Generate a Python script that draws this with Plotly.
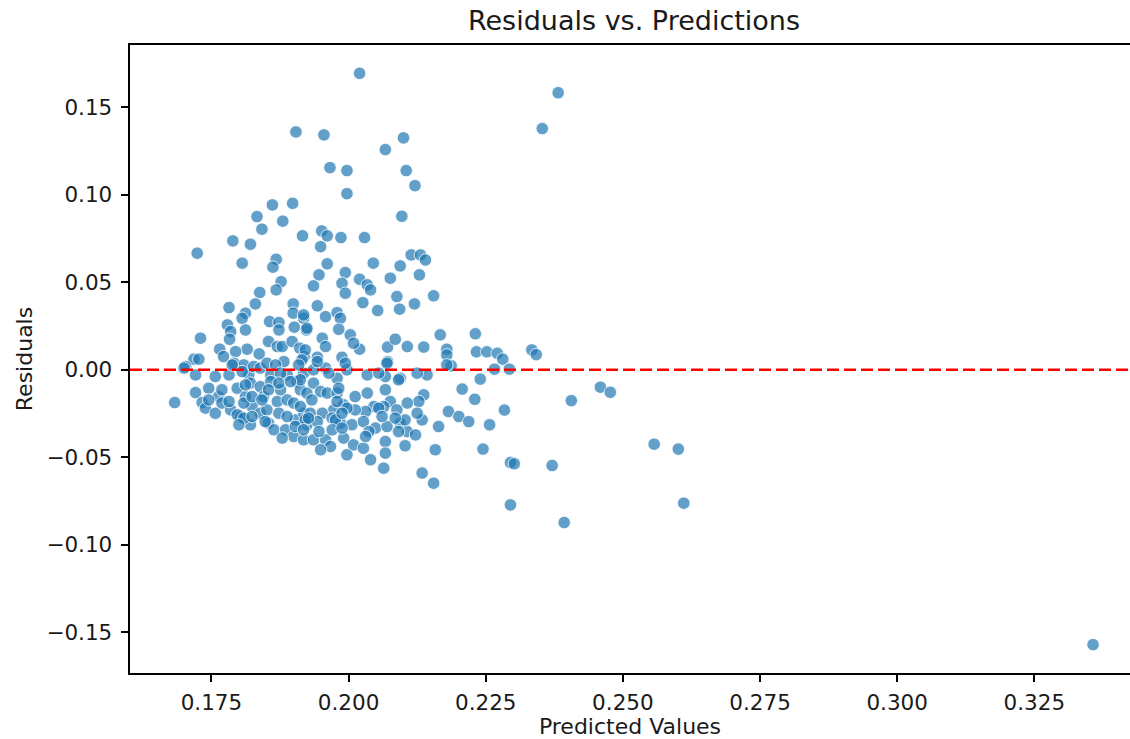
import plotly.graph_objects as go

predicted = [
    0.2020, 0.1904, 0.1955, 0.2067, 0.2100, 0.1966, 0.1997, 0.1997, 0.1861, 0.1898,
    0.1833, 0.1880, 0.1842, 0.1789, 0.1821, 0.1916, 0.1951, 0.1961, 0.1986, 0.2029,
    0.1949, 0.1724, 0.2097, 0.2105, 0.2121, 0.2114, 0.2131, 0.2140, 0.1806, 0.1868,
    0.1862, 0.1877, 0.1868, 0.1838, 0.1830, 0.1782, 0.1812, 0.1806, 0.1899, 0.1899,
    0.1918, 0.1856, 0.1873, 0.1873, 0.1901, 0.1923, 0.1779, 0.1812, 0.1785, 0.1783,
    0.1730, 0.1815, 0.1765, 0.1794, 0.1837, 0.1854, 0.1870, 0.1879, 0.1897, 0.1911,
    0.1919, 0.1772, 0.1718, 0.1727, 0.1791, 0.1882, 0.1703,
    0.1961, 0.2045, 0.2094, 0.2129, 0.1994, 0.1946, 0.2020, 0.1988, 0.2034, 0.2040,
    0.2076, 0.1994, 0.1936, 0.2088, 0.2155, 0.2120, 0.2093, 0.2026, 0.2053, 0.1943,
    0.1918, 0.1958, 0.1979, 0.1985, 0.1924, 0.1982, 0.2003, 0.2020, 0.2009, 0.1952,
    0.1958, 0.1921, 0.1943, 0.1988, 0.2071, 0.2085, 0.2107, 0.2137, 0.2167, 0.2179,
    0.2071, 0.2179,
    0.2382, 0.2353, 0.2231, 0.2233, 0.2252, 0.2271, 0.2281, 0.2334, 0.2342, 0.2187,
    0.2266, 0.2293,
    0.2240, 0.2207, 0.2459, 0.2477, 0.2406, 0.2230, 0.2284, 0.2182, 0.2201, 0.2219,
    0.2257, 0.2245, 0.2557, 0.2601, 0.2295, 0.2302, 0.2371, 0.2295, 0.2611, 0.2393,
    0.3357,
    0.1700, 0.1721, 0.1757, 0.1782, 0.1809, 0.1818, 0.1827, 0.1839, 0.1851, 0.1858,
    0.1867, 0.1888, 0.1906, 0.1918, 0.1915,
    0.1683, 0.1721, 0.1733, 0.1745, 0.1763, 0.1739, 0.1757, 0.1769, 0.1785, 0.1797,
    0.1812, 0.1821, 0.1803, 0.1821, 0.1824, 0.1839, 0.1845, 0.1839, 0.1851, 0.1854,
    0.1864, 0.1870, 0.1876, 0.1888, 0.1885, 0.1900, 0.1903, 0.1900, 0.1918, 0.1924,
    0.1918, 0.1912, 0.1858, 0.1924, 0.1879,
    0.1958, 0.1997, 0.2070, 0.2094, 0.2067, 0.2143, 0.2125, 0.2179, 0.2034, 0.1979,
    0.1912, 0.1936,
    0.1949, 0.1961, 0.1979, 0.2012, 0.2034, 0.2137, 0.2128, 0.2107, 0.2076, 0.2064,
    0.2088, 0.2046, 0.2031, 0.2012, 0.1991, 0.1973, 0.1952, 0.1930, 0.1912, 0.1921,
    0.1943, 0.1970, 0.1985, 0.2006, 0.2027, 0.2049, 0.2070, 0.2094, 0.2107, 0.2122,
    0.2134, 0.2125, 0.2103, 0.2164, 0.1936, 0.1958, 0.1967, 0.1991, 0.2009, 0.2027,
    0.2040, 0.2067, 0.2067, 0.2103, 0.2064, 0.2158, 0.2134, 0.2155, 0.1997, 0.1949,
    0.1788, 0.1806, 0.1876, 0.1909, 0.1936, 0.1943, 0.1964, 0.1994, 0.2055, 0.1769,
    0.1812, 0.1854, 0.1873, 0.1894, 0.1982, 0.2067, 0.2091, 0.1745, 0.1782, 0.1809,
    0.1824, 0.1842, 0.1933, 0.1979, 0.1997, 0.2055, 0.1797, 0.1809, 0.1824, 0.1873,
    0.1888, 0.1927, 0.1976, 0.1988, 0.2061, 0.2085, 0.1800, 0.1848, 0.1903, 0.1918,
    0.1946, 0.1970, 0.1988, 0.2037, 0.2091, 0.2031,
]

residuals = [
    0.1694, 0.1359, 0.1342, 0.1258, 0.1325, 0.1155, 0.1138, 0.1006, 0.0942, 0.0951,
    0.0875, 0.0849, 0.0803, 0.0736, 0.0717, 0.0765, 0.0793, 0.0765, 0.0755, 0.0755,
    0.0703, 0.0666, 0.0877, 0.1138, 0.1052, 0.0656, 0.0656, 0.0627, 0.0609, 0.0631,
    0.0586, 0.0503, 0.0456, 0.0441, 0.0376, 0.0355, 0.0323, 0.0294, 0.0376, 0.0323,
    0.0294, 0.0275, 0.0269, 0.0227, 0.0243, 0.0227, 0.0256, 0.0227, 0.0218, 0.0174,
    0.0180, 0.0117, 0.0117, 0.0103, 0.0090, 0.0161, 0.0132, 0.0132, 0.0161, 0.0123,
    0.0075, 0.0075, 0.0060, 0.0060, 0.0037, 0.0046, 0.0018,
    0.0605, 0.0609, 0.0593, 0.0542, 0.0555, 0.0542, 0.0517, 0.0494, 0.0485, 0.0456,
    0.0523, 0.0437, 0.0479, 0.0418, 0.0422, 0.0376, 0.0346, 0.0383, 0.0338, 0.0365,
    0.0313, 0.0303, 0.0326, 0.0294, 0.0237, 0.0231, 0.0199, 0.0117, 0.0151, 0.0180,
    0.0132, 0.0113, 0.0071, 0.0071, 0.0129, 0.0174, 0.0132, 0.0129, 0.0199, 0.0117,
    0.0046, 0.0084,
    0.1583, 0.1378, 0.0205, 0.0102, 0.0102, 0.0094, 0.0060, 0.0113, 0.0086, 0.0022,
    0.0003, 0.0003,
    -0.0054, -0.0111, -0.0100, -0.0129, -0.0177, -0.0169, -0.0231, -0.0239, -0.0268, -0.0297,
    -0.0315, -0.0454, -0.0426, -0.0454, -0.0531, -0.0538, -0.0548, -0.0773, -0.0763, -0.0874,
    -0.1572,
    0.0009, -0.0030, -0.0039, -0.0030, 0.0027, -0.0030, 0.0018, 0.0009, 0.0037, -0.0030,
    0.0027, -0.0030, -0.0068, -0.0020, 0.0056,
    -0.0188, -0.0131, -0.0188, -0.0106, -0.0154, -0.0220, -0.0249, -0.0191, -0.0230, -0.0106,
    -0.0154, -0.0077, -0.0268, -0.0315, -0.0211, -0.0097, -0.0154, -0.0249, -0.0230, -0.0306,
    -0.0344, -0.0182, -0.0115, -0.0173, -0.0344, -0.0191, -0.0287, -0.0382, -0.0249, -0.0315,
    -0.0401, -0.0115, -0.0068, -0.0134, -0.0391,
    0.0009, -0.0001, 0.0037, -0.0049, -0.0039, -0.0030, -0.0020, 0.0027, -0.0030, -0.0049,
    -0.0058, -0.0077,
    -0.0125, -0.0134, -0.0134, -0.0154, -0.0134, -0.0144, -0.0182, -0.0191, -0.0182, -0.0211,
    -0.0230, -0.0211, -0.0239, -0.0230, -0.0201, -0.0230, -0.0249, -0.0249, -0.0211, -0.0287,
    -0.0297, -0.0277, -0.0306, -0.0315, -0.0297, -0.0334, -0.0325, -0.0306, -0.0354, -0.0373,
    -0.0287, -0.0249, -0.0287, -0.0325, -0.0401, -0.0401, -0.0439, -0.0391, -0.0430, -0.0449,
    -0.0515, -0.0411, -0.0477, -0.0435, -0.0563, -0.0458, -0.0591, -0.0649, -0.0487, -0.0458,
    0.0027, -0.0011, -0.0020, 0.0027, -0.0001, 0.0046, -0.0020, 0.0037, -0.0020, -0.0115,
    -0.0087, -0.0115, -0.0077, -0.0068, -0.0106, -0.0115, -0.0058, -0.0173, -0.0182, -0.0191,
    -0.0154, -0.0173, -0.0173, -0.0182, -0.0220, -0.0220, -0.0258, -0.0277, -0.0268, -0.0249,
    -0.0268, -0.0277, -0.0287, -0.0249, -0.0268, -0.0277, -0.0315, -0.0297, -0.0325, -0.0344,
    -0.0354, -0.0344, -0.0334, -0.0354, -0.0354, -0.0382,
]

x_ticks = [0.175, 0.200, 0.225, 0.250, 0.275, 0.300, 0.325]
x_tick_text = ["0.175", "0.200", "0.225", "0.250", "0.275", "0.300", "0.325"]
y_ticks = [-0.15, -0.10, -0.05, 0.00, 0.05, 0.10, 0.15]
y_tick_text = ["\u22120.15", "\u22120.10", "\u22120.05", "0.00", "0.05", "0.10", "0.15"]

FONT = "DejaVu Sans"
TXT = "#1a1a1a"

fig = go.Figure()
fig.add_trace(go.Scatter(
    x=predicted, y=residuals, mode="markers",
    marker=dict(size=12.5, color="rgba(31,119,180,0.7)",
                line=dict(color="rgba(255,255,255,0.8)", width=1)),
    showlegend=False, hoverinfo="x+y",
))

fig.add_shape(type="line", xref="paper", x0=0, x1=1, yref="y", y0=0, y1=0,
              line=dict(color="red", width=2.5, dash="12px,5px"))

fig.update_layout(
    width=1130, height=739,
    paper_bgcolor="white", plot_bgcolor="white",
    margin=dict(l=130, r=0, t=45, b=66, pad=0),
    font=dict(family=FONT, size=22, color=TXT),
    title=dict(text="Residuals vs. Predictions", font=dict(family=FONT, size=27, color=TXT),
               xref="container", x=634 / 1130, xanchor="center",
               yref="container", y=1 - 21 / 739, yanchor="middle"),
    xaxis=dict(range=[0.16015, 0.34244], tickvals=x_ticks, ticktext=x_tick_text,
               automargin=False,
               showgrid=False, zeroline=False, showline=True, linecolor="black", linewidth=1.8,
               mirror=True, ticks="outside", ticklen=7.5, tickwidth=1.6, tickcolor="black",
               ticklabelstandoff=2,
               tickfont=dict(size=21.5, color=TXT),
               title=dict(text="Predicted Values", font=dict(size=22, color=TXT), standoff=11)),
    yaxis=dict(range=[-0.1734, 0.1856], tickvals=y_ticks, ticktext=y_tick_text,
               automargin=False,
               showgrid=False, zeroline=False, showline=True, linecolor="black", linewidth=1.8,
               mirror=False, ticks="outside", ticklen=7.5, tickwidth=1.6, tickcolor="black",
               ticklabelstandoff=4,
               tickfont=dict(size=21.5, color=TXT),
               title=dict(text="Residuals", font=dict(size=22, color=TXT), standoff=8)),
)

fig.write_html(
    "out.html",
    config={"displayModeBar": False},
    post_script="document.body.style.margin='0';document.body.style.overflow='hidden';",
)
